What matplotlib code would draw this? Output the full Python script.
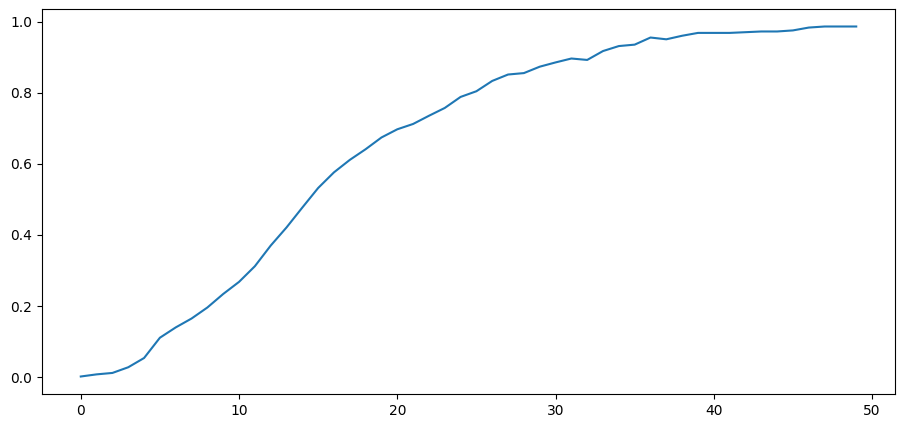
import matplotlib
matplotlib.use("Agg")
import matplotlib.pyplot as plt

# values
steps = list(range(50))
values = [0.002, 0.008, 0.012, 0.028, 0.054, 0.111, 0.140, 0.165, 0.196, 0.234,
          0.268, 0.312, 0.370, 0.421, 0.477, 0.532, 0.576, 0.611, 0.641, 0.674,
          0.697, 0.712, 0.735, 0.757, 0.788, 0.804, 0.833, 0.851, 0.855, 0.873,
          0.885, 0.896, 0.892, 0.917, 0.931, 0.935, 0.955, 0.950, 0.960, 0.968,
          0.968, 0.968, 0.970, 0.972, 0.972, 0.975, 0.983, 0.986, 0.986, 0.986]

fig = plt.figure(figsize=(9.04, 4.28), dpi=100)
ax = fig.add_axes([42 / 904, 34 / 428, 853 / 904, 385 / 428])
ax.plot(steps, values, color="#1f77b4", linewidth=1.5)

fig.savefig("out.png", dpi=100)
